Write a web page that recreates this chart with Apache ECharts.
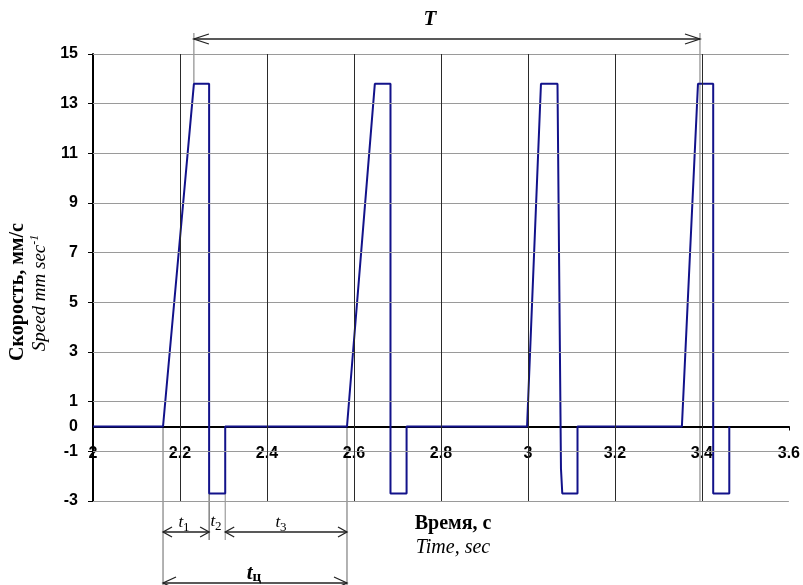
<!DOCTYPE html>
<html><head><meta charset="utf-8">
<script src="https://cdn.jsdelivr.net/npm/echarts@6/dist/echarts.min.js"></script>
<style>html,body{margin:0;padding:0;background:#fff}#c{width:803px;height:585px}</style>
</head><body><div id="c"></div>
<script>
// Data
const time  = [2.000, 2.161, 2.232, 2.267, 2.267, 2.304, 2.304,
               2.584, 2.648, 2.684, 2.684, 2.721, 2.721,
               2.998, 3.030, 3.068, 3.076, 3.079, 3.114, 3.114,
               3.354, 3.391, 3.426, 3.426, 3.463, 3.463];
const speed = [0, 0, 13.8, 13.8, -2.7, -2.7, 0,
               0, 13.8, 13.8, -2.7, -2.7, 0,
               0, 13.8, 13.8, -1.7, -2.7, -2.7, 0,
               0, 13.8, 13.8, -2.7, -2.7, 0];
const yTicks  = [-3, -1, 1, 3, 5, 7, 9, 11, 13, 15];
const yLabels = [-3, -1, 0, 1, 3, 5, 7, 9, 11, 13, 15];
const vGrid   = [2.2, 2.4, 2.6, 2.8, 3.0, 3.2, 3.4];

// annotation anchors (taken from data points)
const cycleStart = time[1], dropTime = time[3], t3Start = time[5], cycleEnd = time[7];
const periodStart = time[2], periodEnd = time[21];
const topSpeed = speed[2], lowSpeed = speed[4];

const SERIF = '"Liberation Serif", "Times New Roman", serif';
const SANS = '"Liberation Sans", Arial, sans-serif';

const chart = echarts.init(document.getElementById('c'), null, {renderer: 'canvas'});
const option = {
  animation: false,
  backgroundColor: '#fff',
  grid: {left: 93, right: 11, top: 54, bottom: 84, containLabel: false},
  xAxis: {
    type: 'value', min: 2, max: 3.6, interval: 0.2, offset: 0,
    axisLine: {onZero: false, lineStyle: {color: '#000', width: 2}},
    axisTick: {show: true, length: 4, lineStyle: {color: '#000', width: 1}},
    axisLabel: {margin: 19, fontFamily: SANS, fontWeight: 'bold', fontSize: 16, color: '#000',
      formatter: v => String(+(+v).toFixed(1))},
    splitLine: {show: false}
  },
  yAxis: {
    type: 'value', min: -3, max: 15, interval: 1,
    axisLine: {show: true, onZero: false, lineStyle: {color: '#000', width: 2}},
    axisTick: {show: true, length: 5, customValues: yTicks, lineStyle: {color: '#000', width: 1}},
    axisLabel: {customValues: yLabels, margin: 15, fontFamily: SANS, fontWeight: 'bold', fontSize: 16, color: '#000',
      formatter: v => (yLabels.indexOf(Math.round(v)) >= 0 ? String(Math.round(v)) : '')},
    splitLine: {show: false}
  },
  series: [
    {
      type: 'line', name: 'grid', data: [], silent: true, z: 1,
      markLine: {
        silent: true, symbol: ['none', 'none'], label: {show: false}, animation: false,
        data: [
          ...yTicks.map(v => ({yAxis: v, lineStyle: {color: '#9a9a9a', width: 1, type: 'solid'}})),
          ...vGrid.map(v => ({xAxis: v, lineStyle: {color: '#2a2a2a', width: 1, type: 'solid'}}))
        ]
      }
    },
    {
      type: 'line', name: 'speed', data: time.map((t, i) => [t, speed[i]]),
      showSymbol: false, symbol: 'none', z: 3,
      lineStyle: {color: '#12128a', width: 2}
    }
  ]
};
chart.setOption(option);

const px = t => chart.convertToPixel({gridIndex: 0}, [t, 0])[0];
const py = v => chart.convertToPixel({gridIndex: 0}, [2, v])[1];

// move the x axis (line, ticks, labels) up to the zero level
chart.setOption({xAxis: {offset: -(py(-3) - py(0))}});

const STROKE = '#222';
function vline(x, y1, y2, color) {
  return {type: 'line', silent: true, shape: {x1: x, y1: y1, x2: x, y2: y2},
    style: {stroke: color || '#666', lineWidth: 1}};
}
function arrow(x1, x2, y, len, spread) {
  return [
    {type: 'line', silent: true, shape: {x1: x1, y1: y, x2: x2, y2: y}, style: {stroke: STROKE, lineWidth: 1.3}},
    {type: 'polyline', silent: true, shape: {points: [[x1 + len, y - spread], [x1, y], [x1 + len, y + spread]]},
      style: {stroke: STROKE, fill: null, lineWidth: 1.3}},
    {type: 'polyline', silent: true, shape: {points: [[x2 - len, y - spread], [x2, y], [x2 - len, y + spread]]},
      style: {stroke: STROKE, fill: null, lineWidth: 1.3}}
  ];
}
function label(x, y, text, rich, font, rot) {
  const st = {text: text, fill: '#000', align: 'center', verticalAlign: 'middle'};
  if (font) st.font = font;
  if (rich) st.rich = rich;
  const el = {type: 'text', silent: true, x: x, y: y, style: st};
  if (rot) el.rotation = rot;
  return el;
}

const xa = px(periodStart), xb = px(periodEnd);
const x1 = px(cycleStart), x2 = px(dropTime), x3 = px(t3Start), x4 = px(cycleEnd);
const subRich = (big, small) => ({
  t: {font: big, lineHeight: 22, verticalAlign: 'middle'},
  s: {font: small, lineHeight: 22, verticalAlign: 'bottom'}
});

const graphics = [
  // period T
  vline(xa, 33, py(topSpeed), '#777'),
  vline(xb + 2, 33, py(-3), '#777'),
  ...arrow(xa, xb + 2, 39, 15, 5),
  label(430, 20, 'T', null, 'bold italic 21px ' + SERIF),
  // cycle breakdown
  vline(x1, py(0), 585, '#666'),
  vline(x2, py(lowSpeed), 540, '#444'),
  vline(x3, py(lowSpeed), 540, '#888'),
  vline(x4, py(0), 585, '#666'),
  ...arrow(x1, x2, 532, 9, 5),
  ...arrow(x3, x4, 532, 9, 5),
  ...arrow(x1, x4, 583, 13, 6),
  label(184, 523, '{t|t}{s|1}', subRich('italic 17px ' + SERIF, '13px ' + SERIF)),
  label(216, 522, '{t|t}{s|2}', subRich('italic 17px ' + SERIF, '13px ' + SERIF)),
  label(281, 523, '{t|t}{s|3}', subRich('italic 17px ' + SERIF, '13px ' + SERIF)),
  label(254, 574, '{t|t}{s|ц}', subRich('bold italic 21px ' + SERIF, 'bold 15px ' + SERIF)),
  // axis titles
  label(453, 524, 'Время, с', null, 'bold 20px ' + SERIF),
  label(453, 548, 'Time, sec', null, 'italic 20px ' + SERIF),
  label(18, 292, 'Скорость, мм/с', null, 'bold 20px ' + SERIF, Math.PI / 2),
  label(40, 293, '{a|Speed mm sec}{b|-1}', {
    a: {font: 'italic 19px ' + SERIF, lineHeight: 22, verticalAlign: 'middle'},
    b: {font: 'italic 12px ' + SERIF, lineHeight: 22, verticalAlign: 'top'}
  }, null, Math.PI / 2)
];
chart.setOption({graphic: {elements: graphics}});
</script>
</body></html>
